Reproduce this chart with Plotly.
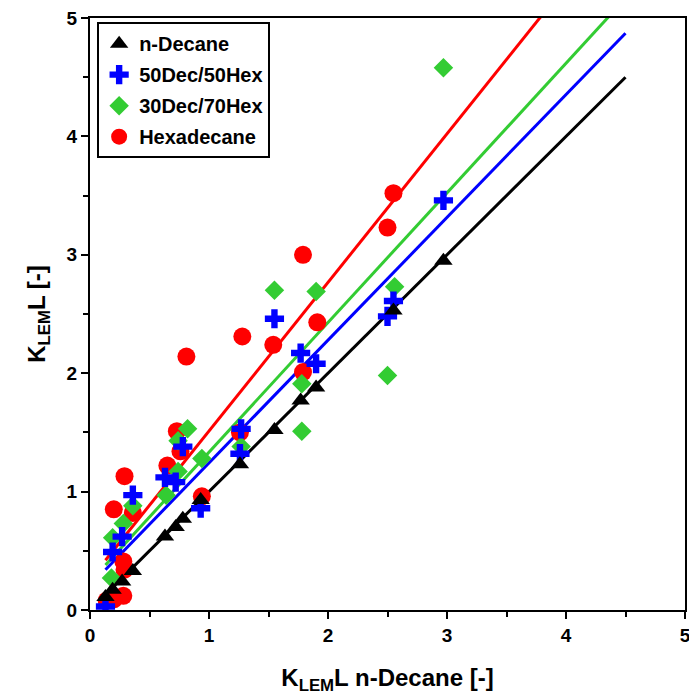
import plotly.graph_objects as go

# n-Decane reference series
dec_x = [0.13, 0.19, 0.27, 0.36, 0.63, 0.72, 0.78, 0.93, 1.26, 1.55, 1.77, 1.90, 2.55, 2.97]
dec_y = [0.11, 0.17, 0.24, 0.33, 0.62, 0.70, 0.77, 0.93, 1.23, 1.52, 1.77, 1.88, 2.53, 2.95]

# 50Dec/50Hex mixture
mix50_x = [0.13, 0.19, 0.27, 0.36, 0.63, 0.72, 0.78, 0.93, 1.26, 1.27, 1.55, 1.77, 1.90, 2.50, 2.55, 2.97]
mix50_y = [0.03, 0.49, 0.62, 0.97, 1.12, 1.08, 1.38, 0.86, 1.32, 1.53, 2.46, 2.17, 2.08, 2.48, 2.61, 3.46]

# 30Dec/70Hex mixture
mix30_x = [0.18, 0.19, 0.28, 0.36, 0.64, 0.74, 0.74, 0.82, 0.94, 1.27, 1.55, 1.78, 1.78, 1.90, 2.50, 2.56, 2.97]
mix30_y = [0.27, 0.61, 0.73, 0.88, 0.97, 1.17, 1.43, 1.53, 1.28, 1.38, 2.70, 1.91, 1.51, 2.69, 1.98, 2.73, 4.58]

# Hexadecane
hex_x = [0.14, 0.20, 0.28, 0.28, 0.29, 0.20, 0.36, 0.29, 0.65, 0.73, 0.76, 0.81, 0.94, 1.26, 1.28, 1.54, 1.79, 1.79, 1.91, 2.50, 2.55]
hex_y = [0.08, 0.09, 0.12, 0.41, 0.34, 0.85, 0.82, 1.13, 1.22, 1.51, 1.34, 2.14, 0.96, 1.50, 2.31, 2.24, 3.00, 2.01, 2.43, 3.23, 3.52]

# Linear fits (slope, intercept) and their x extent
fit_x = [0.13, 4.5]
fit_dec = (1.00, 0.0)
fit_50 = (1.037, 0.205)
fit_30 = (1.095, 0.238)
fit_hex = (1.255, 0.257)

tick_vals = [0, 1, 2, 3, 4, 5]
tick_text = ["0", "1", "2", "3", "4", "5"]

BLACK = "#000000"
BLUE = "#0000ff"
GREEN = "#33cc33"
RED = "#ff0000"

fig = go.Figure()


def fit_line(params, color):
    m, b = params
    fig.add_trace(go.Scatter(
        x=fit_x, y=[m * v + b for v in fit_x], mode="lines",
        line=dict(color=color, width=3), showlegend=False, hoverinfo="skip",
    ))


fit_line(fit_hex, RED)
fit_line(fit_30, GREEN)
fit_line(fit_50, BLUE)
fit_line(fit_dec, BLACK)

fig.add_trace(go.Scatter(
    x=hex_x, y=hex_y, mode="markers", name="Hexadecane", legendrank=4,
    legendgroup="d",
    marker=dict(symbol="circle", size=18, color=RED),
))
fig.add_trace(go.Scatter(
    x=mix30_x, y=mix30_y, mode="markers", name="30Dec/70Hex", legendrank=3,
    legendgroup="c",
    marker=dict(symbol="diamond", size=15, color=GREEN),
))
fig.add_trace(go.Scatter(
    x=mix50_x, y=mix50_y, mode="markers", name="50Dec/50Hex", legendrank=2,
    legendgroup="b",
    marker=dict(symbol="cross", size=16, color=BLUE),
))
fig.add_trace(go.Scatter(
    x=dec_x, y=dec_y, mode="markers", name="n-Decane", legendrank=1,
    legendgroup="a",
    marker=dict(symbol="triangle-up", size=16, color=BLACK),
))

axis_common = dict(
    range=[0, 5], tickvals=tick_vals, ticktext=tick_text,
    showgrid=False, zeroline=False,
    showline=True, linecolor=BLACK, linewidth=2, mirror=True,
    ticks="outside", ticklen=7, tickwidth=2, tickcolor=BLACK,
    minor=dict(dtick=0.5, ticks="outside", ticklen=5, tickwidth=2, tickcolor=BLACK),
    tickfont=dict(family="Liberation Sans", size=19, color=BLACK, weight="bold"),
    ticklabeloverflow="allow",
    automargin=False,
)

fig.update_layout(
    width=689, height=698,
    margin=dict(l=90, r=4, t=18, b=88, autoexpand=False),
    paper_bgcolor="white", plot_bgcolor="white",
    font=dict(family="Liberation Sans", color=BLACK),
    xaxis=dict(
        **axis_common,
        title=dict(text="K<sub>LEM</sub>L n-Decane [-]", standoff=24,
                   font=dict(family="Liberation Sans", size=24, weight="bold")),
    ),
    yaxis=dict(
        **axis_common,
        title=dict(text="K<sub>LEM</sub>L [-]", standoff=14,
                   font=dict(family="Liberation Sans", size=24, weight="bold")),
    ),
    legend=dict(
        x=0.012, y=0.993, xanchor="left", yanchor="top",
        bgcolor="white", bordercolor=BLACK, borderwidth=2,
        font=dict(family="Liberation Sans", size=20, weight="bold", color=BLACK),
        tracegroupgap=2, itemsizing="trace",
    ),
)

fig.write_html("out.html")
